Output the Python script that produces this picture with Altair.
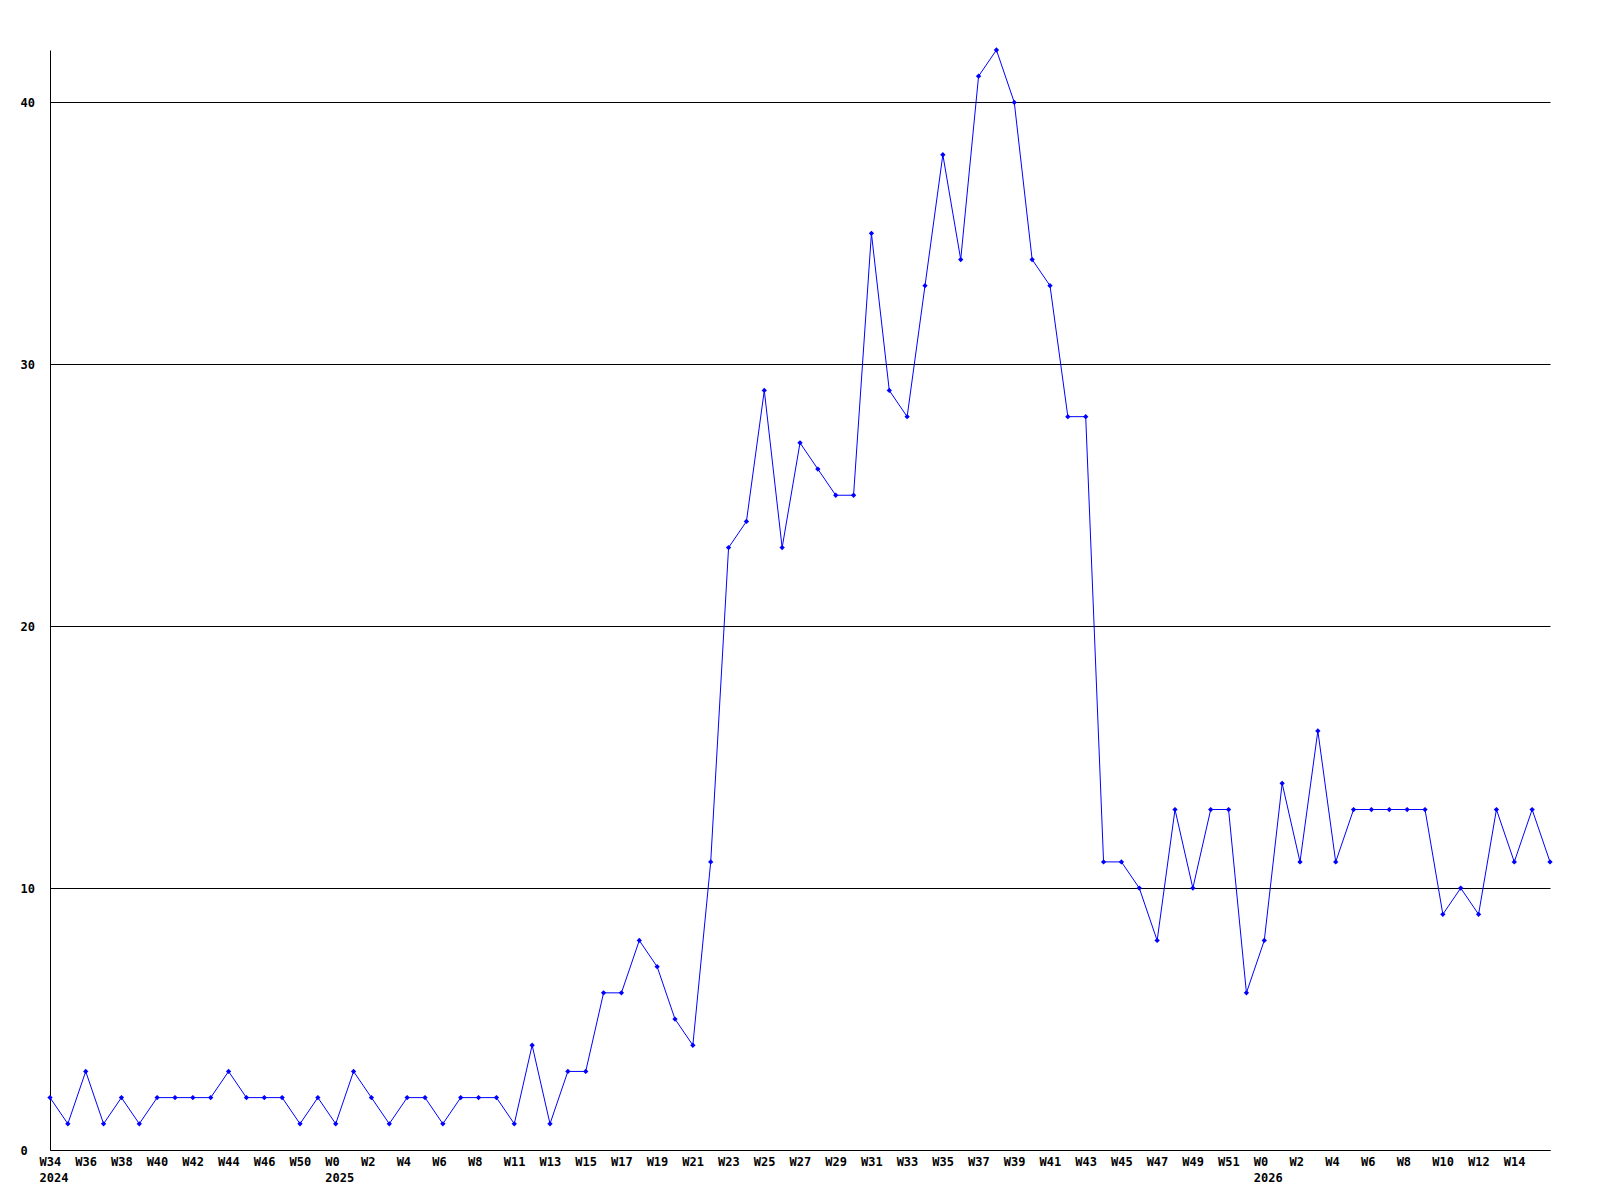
import json
import altair as alt
import pandas as pd

values = [2, 1, 3, 1, 2, 1, 2, 2, 2, 2, 3, 2, 2, 2, 1, 2, 1, 3, 2, 1, 2, 2, 1, 2, 2, 2, 1, 4, 1, 3,
          3, 6, 6, 8, 7, 5, 4, 11, 23, 24, 29, 23, 27, 26, 25, 25, 35, 29, 28, 33, 38, 34, 41, 42, 40, 34,
          33, 28, 28, 11, 11, 10, 8, 13, 10, 13, 13, 6, 8, 14, 11, 16, 11, 13, 13, 13, 13, 13, 9, 10, 9,
          13, 11, 13, 11]

tick_labels = ["W34", "W36", "W38", "W40", "W42", "W44", "W46", "W50", "W0", "W2", "W4", "W6", "W8",
               "W11", "W13", "W15", "W17", "W19", "W21", "W23", "W25", "W27", "W29", "W31", "W33",
               "W35", "W37", "W39", "W41", "W43", "W45", "W47", "W49", "W51", "W0", "W2", "W4", "W6",
               "W8", "W10", "W12", "W14"]
year_marks = {0: "2024", 16: "2025", 68: "2026"}

y_ticks = [0, 10, 20, 30, 40]

n = len(values)
df = pd.DataFrame({"i": list(range(n)), "v": values})

tick_pos = [2 * k for k in range(len(tick_labels))]
label_arr = [""] * n
for p, lab in zip(tick_pos, tick_labels):
    label_arr[p] = lab + ("|" + year_marks[p] if p in year_marks else "")
label_expr = "split(" + json.dumps(label_arr) + "[datum.value], '|')"

FONT = "DejaVu Sans Mono"

x_enc = alt.X("i:Q",
              scale=alt.Scale(domain=[0, n - 1], nice=False, zero=False),
              axis=alt.Axis(values=tick_pos, labelExpr=label_expr, title=None, grid=False,
                            ticks=False, tickSize=0, domainColor="black", domainWidth=1,
                            labelAlign="left", labelOffset=-11, labelBaseline="top", labelPadding=6,
                            labelLineHeight=16, labelFont=FONT, labelFontWeight="bold",
                            labelFontSize=12, labelColor="black", labelOverlap=False,
                            labelFlush=False, labelBound=False))
y_enc = alt.Y("v:Q",
              scale=alt.Scale(domain=[0, 42], nice=False, zero=True),
              axis=alt.Axis(values=y_ticks, title=None, grid=True, gridColor="black",
                            gridWidth=1, gridOpacity=1, ticks=False, tickSize=0,
                            domainColor="black", domainWidth=1, labelAlign="left",
                            labelPadding=30, labelBaseline="middle", labelFont=FONT,
                            labelFontWeight="bold", labelFontSize=12, labelColor="black",
                            labelOverlap=False))

line = alt.Chart(df).mark_line(color="#0000ff", strokeWidth=1).encode(x=x_enc, y=y_enc)
pts = alt.Chart(df).mark_point(shape="diamond", filled=True, color="#0000ff", size=28,
                               opacity=1).encode(x=x_enc, y=y_enc)

chart = (line + pts).properties(
    width=1500, height=1100,
    autosize=alt.AutoSizeParams(type="none"),
    padding={"left": 42, "top": 42, "right": 40, "bottom": 40},
    background="white",
).configure_view(stroke=None).configure_axis(labelOverlap=False)

chart.save("out.html", embed_options={"renderer": "svg", "actions": False})
